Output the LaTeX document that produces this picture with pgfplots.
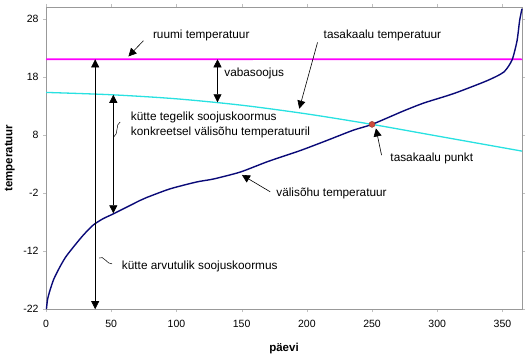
\documentclass[border=0pt]{standalone}
\usepackage{pgfplots}
\pgfplotsset{compat=1.18}
\usepackage{fontspec}
\setmainfont{Liberation Sans}
\usetikzlibrary{arrows.meta}
\definecolor{navyc}{RGB}{10,10,120}
\definecolor{cyanc}{RGB}{40,225,225}
\definecolor{roomc}{RGB}{255,0,255}
\definecolor{dotc}{RGB}{205,75,60}
\begin{document}
\begin{tikzpicture}[>={Triangle[length=8pt,width=8pt]}]
\begin{axis}[scale only axis, width=475.7pt, height=302pt,
  xmin=0, xmax=365, ymin=-22, ymax=30,
  xtick={0,50,...,350}, ytick={-22,-12,-2,8,18,28},
  axis line style={draw=gray!80},
  tick style={draw=gray!50}, major tick length=3pt, tick align=outside,
  ticklabel style={font=\fontsize{10.5}{12}\selectfont},
  /pgf/number format/assume math mode=true,
  xticklabel style={yshift=-4pt}, yticklabel style={xshift=-1pt},
  xlabel={päevi}, ylabel={temperatuur},
  label style={font=\fontsize{11.5}{13}\selectfont\bfseries},
  xlabel style={at={(axis description cs:0.5,-0.13)}, anchor=center},
  ylabel style={at={(axis description cs:-0.076,0.5)}, anchor=center},
  clip=false]
% balance temperature
\addplot[color=cyanc, line width=1.3pt, smooth, mark=none] coordinates {(0,15.3) (50,14.9) (100,14.2) (150,13.1) (200,11.6) (250,9.8) (300,7.8) (365,5.2)};
% room temperature
\addplot[color=roomc, line width=1.6pt, mark=none] coordinates {(0,21) (182,21.02) (365,21)};
% outdoor temperature
\addplot[color=navyc, line width=1.4pt, smooth, tension=0.4, mark=none] coordinates {
 (0.3,-22) (1.2,-20.3) (3.1,-18.7) (6,-16.8) (10.7,-14.7) (15,-13.05) (21,-11.3)
 (28.6,-9.25) (36.3,-7.5) (44,-6.4) (51.6,-5.6) (72,-3.3) (77,-2.8) (95,-1.3) (115.7,-0.1)
 (128.4,0.4) (149,1.6) (170,3.4) (195,5.3) (215,7.0) (235.6,8.8) (250,9.8)
 (274,12.1) (290,13.5) (312.6,15.1) (338,17.3) (351,18.8) (357.4,20.9)
 (361.2,24.2) (363.2,27.7) (365,29.7)};
% balance point
\addplot[only marks, mark=*, mark size=3pt, mark options={fill=dotc, draw=dotc!70!black}] coordinates {(250,9.8)};

% arrows
\draw[<->, line width=0.6pt] (axis cs:37.7,21) -- (axis cs:37.7,-22);
\draw[<->, line width=0.6pt] (axis cs:51.6,14.9) -- (axis cs:51.6,-5.5);
\draw[<->, line width=0.6pt] (axis cs:131.5,21) -- (axis cs:131.5,13.6);
\draw[->, line width=0.6pt] (axis cs:74.7,24.2) -- (axis cs:63.2,21.5);
\draw[->, line width=0.6pt] (axis cs:208.2,23.9) -- (axis cs:194.2,12.5);
\draw[->, line width=0.6pt] (axis cs:257.3,4.5) -- (axis cs:253,9.1);
\draw[->, line width=0.6pt] (axis cs:171.9,-1.8) -- (axis cs:150.2,1.1);
% small leaders
\draw[line width=0.5pt] (axis cs:56.8,10.2) .. controls (axis cs:53,9.8) and (axis cs:56,8.2) .. (axis cs:51.8,7.6);
\draw[line width=0.5pt] (axis cs:40.7,-13.2) .. controls (axis cs:44,-12.6) and (axis cs:47,-14.4) .. (axis cs:50.7,-14.2);

% texts
\begin{scope}[every node/.style={font=\fontsize{11.8}{15.5}\selectfont, inner sep=0pt}]
\node[anchor=west] at (axis cs:81.9,25.1) {ruumi temperatuur};
\node[anchor=west] at (axis cs:136.6,18.6) {vabasoojus};
\node[anchor=west, align=left] at (axis cs:65,9.7) {kütte tegelik soojuskoormus\\konkreetsel välisõhu temperatuuril};
\node[anchor=west] at (axis cs:58.1,-14.6) {kütte arvutulik soojuskoormus};
\node[anchor=west] at (axis cs:212.8,25.1) {tasakaalu temperatuur};
\node[anchor=west] at (axis cs:264,3.9) {tasakaalu punkt};
\node[anchor=west] at (axis cs:176.5,-2.0) {välisõhu temperatuur};
\end{scope}
\end{axis}
\path ([shift={(-46pt,-52pt)}]current axis.south west) rectangle ([shift={(6pt,7pt)}]current axis.north east);
\end{tikzpicture}
\end{document}
